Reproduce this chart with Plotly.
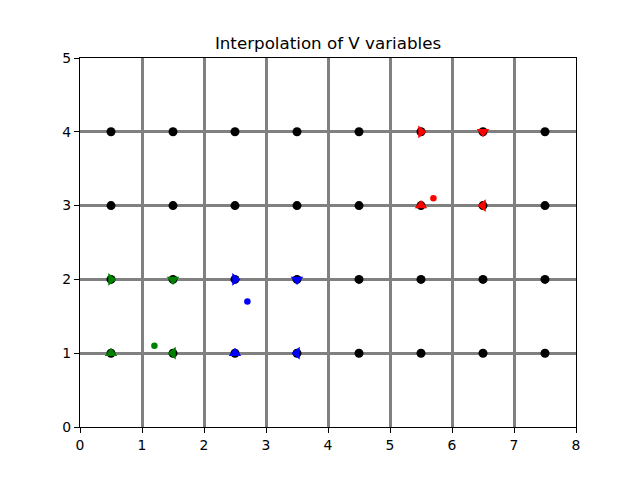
import plotly.graph_objects as go

# cell centres of the grid (black nodes)
node_x = [0.5, 1.5, 2.5, 3.5, 4.5, 5.5, 6.5, 7.5]
node_y = [1, 2, 3, 4]

# interpolation stencils: corner points and the interpolated point
stencil_colors = ["green", "blue", "red"]
corner_x = [[0.5, 1.5, 0.5, 1.5], [2.5, 3.5, 2.5, 3.5], [5.5, 6.5, 5.5, 6.5]]
corner_y = [[2, 2, 1, 1], [2, 2, 1, 1], [4, 4, 3, 3]]
corner_symbols = ["triangle-right", "triangle-down", "triangle-up", "triangle-left"]
interp_x = [1.2, 2.7, 5.7]
interp_y = [1.1, 1.7, 3.1]

x_ticks = [0, 1, 2, 3, 4, 5, 6, 7, 8]
y_ticks = [0, 1, 2, 3, 4, 5]

fig = go.Figure()

px, py = [], []
for yy in node_y:
    for xx in node_x:
        px.append(xx)
        py.append(yy)

fig.add_trace(go.Scatter(x=px, y=py, mode="markers",
                         marker=dict(color="black", size=9),
                         showlegend=False, hoverinfo="skip"))

for color, cx, cy, ix, iy in zip(stencil_colors, corner_x, corner_y, interp_x, interp_y):
    fig.add_trace(go.Scatter(x=cx, y=cy, mode="markers",
                             marker=dict(color=color, size=11, symbol=corner_symbols),
                             showlegend=False))
    fig.add_trace(go.Scatter(x=[ix], y=[iy], mode="markers",
                             marker=dict(color=color, size=6.5),
                             showlegend=False))

axis_common = dict(
    showgrid=True, gridcolor="gray", gridwidth=2.8,
    showline=True, linecolor="black", linewidth=1.1, mirror=True,
    ticks="outside", ticklen=5, tickwidth=1.1, tickcolor="black",
    zeroline=False,
    tickfont=dict(family="DejaVu Sans", size=13.9, color="black"),
)

fig.update_xaxes(range=[0, 8], tickvals=x_ticks, **axis_common)
fig.update_yaxes(range=[0, 5], tickvals=y_ticks, **axis_common)

# the page body adds an 8px offset, so margins are shifted to compensate
fig.update_layout(
    width=640, height=480,
    margin=dict(l=72, r=72, t=50, b=61),
    paper_bgcolor="white", plot_bgcolor="white",
    title=dict(text="Interpolation of V variables", x=0.5, xanchor="center",
               y=0.927, yanchor="middle",
               font=dict(family="DejaVu Sans", size=16.7, color="black")),
)

fig.write_html("out.html")
